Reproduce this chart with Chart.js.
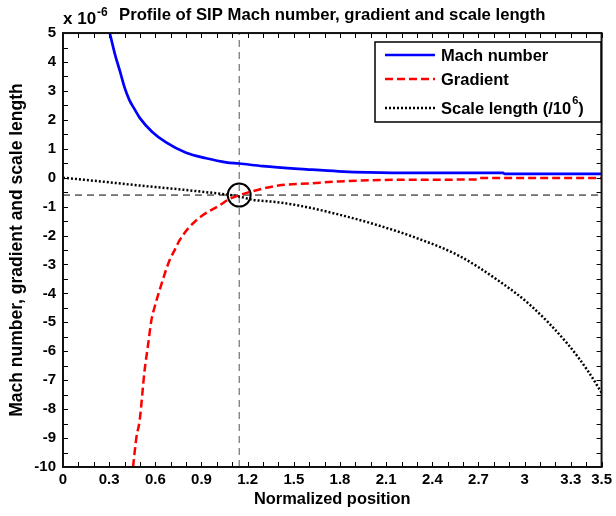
<!DOCTYPE html>
<html>
<head>
<meta charset="utf-8">
<script src="https://cdn.jsdelivr.net/npm/chart.js@4.4.0/dist/chart.umd.min.js"></script>
<style>
  html, body { margin: 0; padding: 0; background: #fff; }
</style>
</head>
<body>
<canvas id="chart" width="616" height="516"></canvas>
<script>
// values (y in units of 1e-6)
const machX = [0.304, 0.336, 0.37, 0.40, 0.43, 0.466, 0.50, 0.58, 0.67, 0.80, 0.93, 1.06, 1.145, 1.30, 1.58, 1.79, 2.14, 2.86, 2.87, 3.5];
const machY = [5.0, 4.30, 3.68, 3.12, 2.70, 2.36, 2.06, 1.58, 1.22, 0.86, 0.67, 0.53, 0.49, 0.40, 0.29, 0.22, 0.17, 0.17, 0.13, 0.13];

const gradX = [0.455, 0.477, 0.498, 0.53, 0.552, 0.574, 0.595, 0.627, 0.692, 0.724, 0.757, 0.821, 0.908, 1.016, 1.08, 1.145, 1.21, 1.40, 1.62, 1.79, 1.99, 2.2, 2.70, 2.71, 3.5];
const gradY = [-10, -8.98, -8.40, -6.67, -5.81, -4.94, -4.48, -3.90, -2.86, -2.52, -2.17, -1.71, -1.30, -0.96, -0.74, -0.61, -0.50, -0.27, -0.19, -0.13, -0.09, -0.07, -0.06, -0.01, -0.01];

const scaleX = [0, 0.283, 0.498, 0.713, 0.93, 1.06, 1.145, 1.23, 1.38, 1.53, 1.79, 2.05, 2.31, 2.57, 2.83, 3.04, 3.28, 3.41, 3.5];
const scaleY = [0, -0.15, -0.27, -0.38, -0.50, -0.58, -0.65, -0.76, -0.84, -0.96, -1.27, -1.65, -2.11, -2.69, -3.56, -4.42, -5.75, -6.67, -7.43];

// crossing point marked with the circle
const crossX = 1.145;
const crossY = -0.6;

const xTicks = [0, 0.3, 0.6, 0.9, 1.2, 1.5, 1.8, 2.1, 2.4, 2.7, 3, 3.3, 3.5];
const yTicks = [-10, -9, -8, -7, -6, -5, -4, -3, -2, -1, 0, 1, 2, 3, 4, 5];
const xMinorStep = 0.1;
const yMinorStep = 0.5;

const FONT = '"Liberation Sans", Arial, sans-serif';

function pts(xs, ys) {
  return xs.map((x, i) => ({ x: x, y: ys[i] }));
}

// draws "a^b rest" with b as a superscript
function drawSup(ctx, text, x, y, size) {
  const i = text.indexOf('^');
  ctx.font = 'bold ' + size + 'px ' + FONT;
  if (i < 0) { ctx.fillText(text, x, y); return; }
  const pre = text.slice(0, i);
  const m = text.slice(i + 1).match(/^(-?\d+)(.*)$/);
  ctx.fillText(pre, x, y);
  let cx = x + ctx.measureText(pre).width;
  ctx.font = 'bold ' + Math.round(size * 0.68) + 'px ' + FONT;
  ctx.fillText(m[1], cx + 1, y - size * 0.48);
  cx += ctx.measureText(m[1]).width + 1;
  ctx.font = 'bold ' + size + 'px ' + FONT;
  ctx.fillText(m[2], cx, y);
}

const axesBox = {
  id: 'axesBox',
  afterDatasetsDraw(chart) {
    const { ctx, chartArea: a, scales: { x, y } } = chart;
    ctx.save();
    ctx.strokeStyle = '#000';
    ctx.lineWidth = 1;
    ctx.beginPath();
    for (let v = x.min; v <= x.max + 1e-9; v += xMinorStep) {
      const px = Math.round(x.getPixelForValue(v)) + 0.5;
      ctx.moveTo(px, a.bottom); ctx.lineTo(px, a.bottom - 5);
      ctx.moveTo(px, a.top); ctx.lineTo(px, a.top + 5);
    }
    for (let v = y.min; v <= y.max + 1e-9; v += yMinorStep) {
      const py = Math.round(y.getPixelForValue(v)) + 0.5;
      ctx.moveTo(a.left, py); ctx.lineTo(a.left + 5, py);
      ctx.moveTo(a.right, py); ctx.lineTo(a.right - 5, py);
    }
    ctx.stroke();
    ctx.lineWidth = 2;
    ctx.strokeStyle = '#111';
    ctx.strokeRect(a.left, a.top, a.right - a.left, a.bottom - a.top);

    // exponent label above the y axis
    ctx.fillStyle = '#000';
    ctx.textBaseline = 'alphabetic';
    ctx.textAlign = 'left';
    drawSup(ctx, 'x 10^-6', a.left, 24, 17);
    ctx.restore();
  },
  afterDraw(chart) {
    const { ctx } = chart;
    const box = { l: 375, t: 42, r: 601, b: 122 };
    const rows = [55, 79, 108];
    ctx.save();
    ctx.fillStyle = '#fff';
    ctx.fillRect(box.l, box.t, box.r - box.l, box.b - box.t);
    ctx.strokeStyle = '#000';
    ctx.lineWidth = 1.5;
    ctx.strokeRect(box.l, box.t, box.r - box.l, box.b - box.t);
    for (let i = 0; i < 3; i++) {
      const ds = chart.data.datasets[i];
      ctx.beginPath();
      ctx.strokeStyle = ds.borderColor;
      ctx.lineWidth = ds.borderWidth;
      ctx.setLineDash(ds.borderDash || []);
      ctx.moveTo(385, rows[i]);
      ctx.lineTo(435, rows[i]);
      ctx.stroke();
      ctx.setLineDash([]);
      ctx.fillStyle = '#000';
      ctx.textBaseline = 'middle';
      ctx.textAlign = 'left';
      drawSup(ctx, ds.label, 441, rows[i] + 1, 16.5);
    }
    ctx.restore();
  }
};

new Chart(document.getElementById('chart'), {
  type: 'scatter',
  data: {
    datasets: [
      {
        label: 'Mach number',
        data: pts(machX, machY),
        showLine: true,
        borderColor: '#0000ff',
        borderWidth: 2.7,
        pointRadius: 0,
        cubicInterpolationMode: 'monotone'
      },
      {
        label: 'Gradient',
        data: pts(gradX, gradY),
        showLine: true,
        borderColor: '#ff0000',
        borderWidth: 2.5,
        borderDash: [8, 4],
        pointRadius: 0,
        cubicInterpolationMode: 'monotone'
      },
      {
        label: 'Scale length (/10^6)',
        data: pts(scaleX, scaleY),
        showLine: true,
        borderColor: '#000000',
        borderWidth: 2.5,
        borderDash: [2, 2],
        pointRadius: 0,
        cubicInterpolationMode: 'monotone'
      },
      {
        label: 'vline',
        data: [{ x: crossX, y: -10 }, { x: crossX, y: 5 }],
        showLine: true,
        borderColor: '#555',
        borderWidth: 1,
        borderDash: [7, 5],
        pointRadius: 0
      },
      {
        label: 'hline',
        data: [{ x: 0, y: crossY }, { x: 3.5, y: crossY }],
        showLine: true,
        borderColor: '#000',
        borderWidth: 1,
        borderDash: [7, 5],
        pointRadius: 0
      },
      {
        label: 'circle',
        data: [{ x: crossX, y: crossY }],
        pointRadius: 11.5,
        pointStyle: 'circle',
        backgroundColor: 'rgba(0,0,0,0)',
        borderColor: '#000',
        borderWidth: 2
      }
    ]
  },
  options: {
    responsive: false,
    animation: false,
    layout: { padding: { left: 0, right: 12, top: 0, bottom: 0 } },
    plugins: {
      legend: { display: false },
      tooltip: { enabled: false },
      title: {
        display: true,
        text: 'Profile of SIP Mach number, gradient and scale length',
        fullSize: false,
        color: '#000',
        font: { family: FONT, size: 16.7, weight: 'bold' },
        padding: { top: 5, bottom: 8 }
      }
    },
    scales: {
      x: {
        type: 'linear',
        min: 0,
        max: 3.5,
        grid: { display: false, drawTicks: false },
        border: { display: false },
        afterFit(s) { s.height = 49; },
        afterBuildTicks(s) { s.ticks = xTicks.map(v => ({ value: v })); },
        ticks: {
          color: '#000',
          padding: 4,
          maxRotation: 0,
          autoSkip: false,
          font: { family: FONT, size: 15, weight: 'bold' },
          callback: v => String(v)
        },
        title: {
          display: true,
          text: 'Normalized position',
          color: '#000',
          font: { family: FONT, size: 16.4, weight: 'bold' },
          padding: { bottom: 7 }
        }
      },
      y: {
        type: 'linear',
        min: -10,
        max: 5,
        grid: { display: false, drawTicks: false },
        border: { display: false },
        afterFit(s) { s.width = 63; },
        afterBuildTicks(s) { s.ticks = yTicks.map(v => ({ value: v })); },
        ticks: {
          color: '#000',
          padding: 7,
          autoSkip: false,
          font: { family: FONT, size: 15, weight: 'bold' },
          callback: v => String(v)
        },
        title: {
          display: true,
          text: 'Mach number, gradient and scale length',
          color: '#000',
          font: { family: FONT, size: 17.5, weight: 'bold' },
          padding: { top: 7 }
        }
      }
    }
  },
  plugins: [axesBox]
});
</script>
</body>
</html>
